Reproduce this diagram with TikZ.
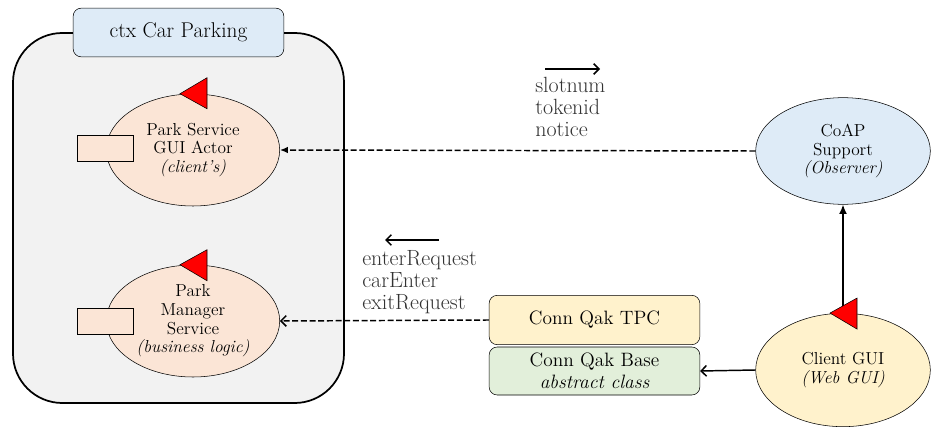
\documentclass[tikz,border=0pt]{standalone}
\usetikzlibrary{arrows.meta,shapes.geometric,calc,positioning}
\definecolor{cx}{HTML}{F2F2F2}
\definecolor{pe}{HTML}{FBE5D6}
\definecolor{bl}{HTML}{DEEBF7}
\definecolor{ye}{HTML}{FFF2CC}
\definecolor{gn}{HTML}{E2EFDA}
\definecolor{re}{HTML}{FF0000}
\definecolor{tx}{HTML}{333333}

\tikzset{
  actor/.style={ellipse, draw, thin, minimum width=130pt, minimum height=84pt, align=center, inner sep=0pt, font=\fontsize{13}{14}\selectfont},
  conn/.style={draw, rounded corners=6pt, minimum width=158pt, minimum height=37pt, align=center, inner sep=0pt, font=\fontsize{14.5}{16.5}\selectfont},
  port/.style={draw, fill=pe, minimum width=42pt, minimum height=19.5pt, inner sep=0pt},
  msg/.style={align=left, anchor=north west, inner sep=0pt, text=tx, font=\fontsize{16.5}{16.5}\selectfont},
  flag/.style={fill=re, draw=black, thin},
  dashline/.style={line width=1.1pt, dash pattern=on 4.5pt off 2pt},
}

\begin{document}
\begin{tikzpicture}[x=0.75pt,y=-0.75pt]
  \useasboundingbox (0,0) rectangle (945,438);

  % context
  \filldraw[fill=cx, draw=black, line width=1.3pt, rounded corners=37pt] (13,33) rectangle (344,403);
  \node[conn, fill=bl, minimum height=36.5pt, font=\fontsize{16}{17}\selectfont] (ctx) at (178.5,32.5) {ctx Car Parking};

  % actors in the context
  \node[actor, fill=pe] (psa) at (193,150) {Park Service\\GUI Actor\\{\itshape (client's)}};
  \node[port] (psaport) at (105,148) {};
  \node[actor, fill=pe] (pms) at (193,321) {Park\\Manager\\Service\\{\itshape (business logic)}};
  \node[port] (pmsport) at (105,321) {};

  % outside
  \node[actor, fill=bl, minimum width=131pt, minimum height=80pt] (coap) at (843,151) {CoAP\\Support\\{\itshape (Observer)}};
  \node[actor, fill=ye, minimum width=131pt, minimum height=85pt] (cli) at (843,370) {Client GUI\\{\itshape (Web GUI)}};
  \node[conn, fill=ye] (tpc) at (594.5,320) {Conn Qak TPC};
  \node[conn, fill=gn, minimum height=36pt] (base) at (594.5,371) {Conn Qak Base\\{\itshape abstract class}};

  % connectors
  \draw[dashline, -{Latex[length=6pt,width=5pt]}] (coap.west) -- (psa.east);
  \draw[dashline, -{Straight Barb[length=4pt,width=8pt]}] (tpc.west) -- (pms.east);
  \draw[line width=1.1pt, -{Latex[length=7pt,width=6pt]}] (cli.north) -- (coap.south);
  \draw[line width=1.1pt, -{Straight Barb[length=4pt,width=8pt]}] (cli.west) -- (base.east);

  % flags
  \filldraw[flag] ($(psa.north)+(-13,0)$) -- ++(27,-16) -- ++(0,31) -- cycle;
  \filldraw[flag] ($(pms.north)+(-13,0)$) -- ++(27,-15) -- ++(0,31) -- cycle;
  \filldraw[flag] ($(cli.north)+(-13,0)$) -- ++(27,-15) -- ++(0,31) -- cycle;

  % messages
  \node[msg] (m1) at (535,77) {slotnum\\tokenid\\notice};
  \coordinate (m1a) at (545,69);
  \coordinate (m1b) at (600,69);
  \draw[line width=1.1pt, -{Straight Barb[length=4pt,width=8pt]}] (m1a) -- (m1b);

  \node[msg] (m2) at (362,250) {enterRequest\\carEnter\\exitRequest};
  \coordinate (m2a) at (439,240);
  \coordinate (m2b) at (385,240);
  \draw[line width=1.1pt, -{Straight Barb[length=4pt,width=8pt]}] (m2a) -- (m2b);
\end{tikzpicture}
\end{document}
